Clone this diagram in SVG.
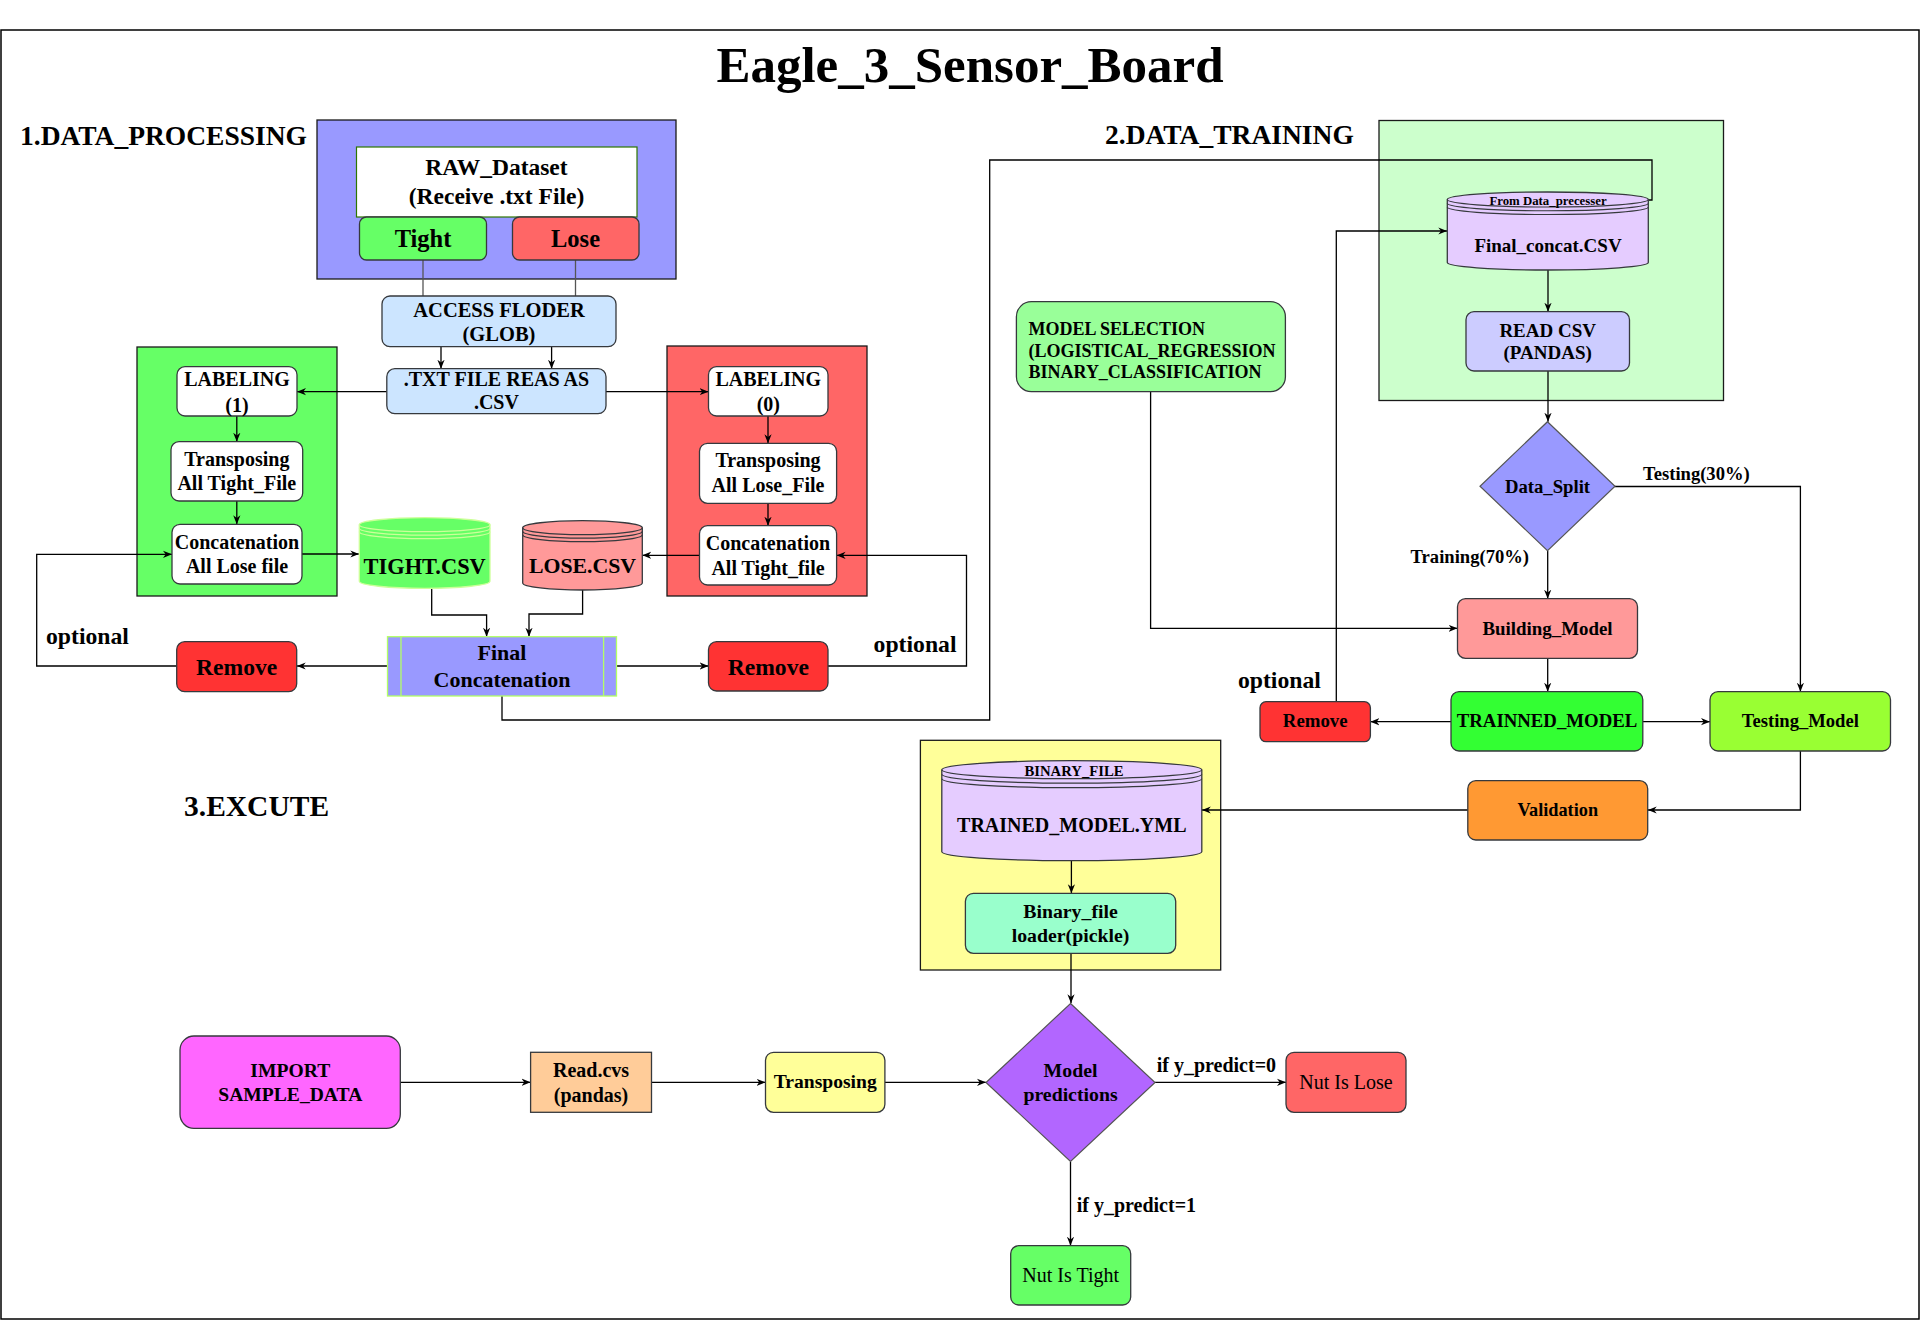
<svg xmlns="http://www.w3.org/2000/svg" width="1921" height="1321" viewBox="0 0 1921 1321">
<defs>
<marker id="arr" viewBox="0 0 10 10" refX="10" refY="5" markerWidth="9" markerHeight="9" orient="auto" markerUnits="userSpaceOnUse">
<path d="M0,1 L10,5 L0,9 L3,5 Z" fill="#000"/>
</marker>
</defs>
<style>
text{font-family:"Liberation Serif","Times New Roman",serif;font-weight:bold;fill:#000;}
.c{text-anchor:middle;}
.n{font-weight:normal;}
.box{stroke:#36393d;stroke-width:1.3;}
.grp{stroke:#1a1a1a;stroke-width:1.3;}
.ln{fill:none;stroke:#000;stroke-width:1.3;}
.lg{fill:none;stroke:#555;stroke-width:1.3;}
.a{marker-end:url(#arr);}
</style>
<rect x="0" y="0" width="1921" height="1321" fill="#fff"/>
<rect x="1" y="30" width="1918" height="1289" fill="none" stroke="#000" stroke-width="1.5"/>
<text class="c" x="970" y="82" font-size="51">Eagle_3_Sensor_Board</text>
<text x="20" y="145" font-size="27.5">1.DATA_PROCESSING</text>
<text x="1105" y="144" font-size="27.5">2.DATA_TRAINING</text>
<text x="184" y="816" font-size="29.5">3.EXCUTE</text>

<!-- containers -->
<g id="raw_group"><rect class="grp" x="317" y="120" width="359" height="159" fill="#9999FF"/></g>
<g id="tight_group"><rect class="grp" x="137" y="347" width="200" height="249" fill="#66FF66"/></g>
<g id="lose_group"><rect class="grp" x="667" y="346" width="200" height="250" fill="#FF6666"/></g>
<g id="train_group"><rect class="grp" x="1379" y="120.5" width="344.5" height="280" fill="#CCFFCC"/></g>
<g id="binary_group"><rect class="grp" x="920.4" y="740.3" width="300.3" height="229.7" fill="#FFFF99"/></g>

<!-- connectors -->
<g id="connectors">
<path class="lg" d="M423,260 V296"/>
<path class="lg" d="M575.5,260 V296"/>
<path class="ln a" d="M441,347 V368.7"/>
<path class="ln a" d="M551.6,347 V368.7"/>
<path class="ln a" d="M386.8,391.7 H297"/>
<path class="ln a" d="M606,391.7 H708.5"/>
<path class="ln a" d="M236.8,416 V441.7"/>
<path class="ln a" d="M236.8,501 V524.3"/>
<path class="ln a" d="M768,416 V443.3"/>
<path class="ln a" d="M768,503.3 V525.7"/>
<path class="ln a" d="M302,554 H359.3"/>
<path class="ln a" d="M699.5,555.3 H642.3"/>
<path class="ln a" d="M431.7,588.3 V615 H486.6 V636.7"/>
<path class="ln a" d="M582.6,590 V614 H529 V636.7"/>
<path class="ln a" d="M616.5,666 H708.5"/>
<path class="ln a" d="M387.5,666 H296.7"/>
<path class="ln a" d="M828,666 H966.5 V555.3 H836.6"/>
<path class="ln a" d="M176.7,666 H36.7 V554.3 H172"/>
<path class="ln a" d="M502,696 V720 H989.7 V160 H1652 V200 H1615"/>
<path class="ln a" d="M1548,270 V311.7"/>
<path class="ln a" d="M1548,371 V421.7"/>
<path class="ln a" d="M1614.6,486.5 H1800.4 V691.7"/>
<path class="ln a" d="M1547.7,550.7 V598.7"/>
<path class="ln a" d="M1150.6,391.7 V628.3 H1457.5"/>
<path class="ln a" d="M1547.7,658.3 V691.7"/>
<path class="ln a" d="M1451,721.7 H1370.4"/>
<path class="ln a" d="M1642.8,721.7 H1710"/>
<path class="ln a" d="M1336.3,701.7 V231 H1447.3"/>
<path class="ln a" d="M1800.4,751 V810 H1647.7"/>
<path class="ln a" d="M1467.8,810 H1201.8"/>
<path class="ln a" d="M1071.4,860.7 V893.3"/>
<path class="ln a" d="M1071,953.3 V1003.3"/>
<path class="ln a" d="M1155,1082.3 H1286"/>
<path class="ln a" d="M1070.5,1161.7 V1245.7"/>
<path class="ln a" d="M400.3,1082.3 H530.6"/>
<path class="ln a" d="M651.5,1082.3 H765.5"/>
<path class="ln a" d="M884.9,1082.3 H986"/>
</g>

<!-- edge labels -->
<text x="873.6" y="651.7" font-size="23.7">optional</text>
<text x="46" y="644.3" font-size="23.7">optional</text>
<text x="1237.9" y="688" font-size="23.7">optional</text>
<text x="1643" y="480" font-size="18.6">Testing(30%)</text>
<text x="1410.6" y="563" font-size="18.6">Training(70%)</text>
<text x="1156.7" y="1071.7" font-size="20">if y_predict=0</text>
<text x="1076.7" y="1211.7" font-size="20">if y_predict=1</text>

<!-- section 1 nodes -->
<g id="raw_dataset"><rect x="356.5" y="147" width="280.5" height="70" fill="#fff" stroke="#2D7600" stroke-width="1.2"/>
<text class="c" x="496.5" y="175" font-size="23.5">RAW_Dataset</text><text class="c" x="496.5" y="204" font-size="23.5">(Receive .txt File)</text></g>
<g id="tight"><rect class="box" x="359.5" y="217" width="127" height="43" rx="7" fill="#66FF66"/><text class="c" x="423" y="247" font-size="24.5">Tight</text></g>
<g id="lose"><rect class="box" x="512.5" y="217" width="126.5" height="43" rx="7" fill="#FF6666"/><text class="c" x="575.5" y="247" font-size="24.5">Lose</text></g>
<g id="access_folder"><rect class="box" x="382" y="296" width="234" height="50.7" rx="8" fill="#CCE5FF"/>
<text class="c" x="499" y="316.7" font-size="20.5">ACCESS FLODER</text><text class="c" x="499" y="340.7" font-size="20.5">(GLOB)</text></g>
<g id="txt_read"><rect class="box" x="386.8" y="368.7" width="219.2" height="45" rx="8" fill="#CCE5FF"/>
<text class="c" x="496.4" y="386" font-size="20">.TXT FILE REAS AS</text><text class="c" x="496.4" y="409" font-size="20">.CSV</text></g>
<g id="labeling1"><rect class="box" x="177" y="366.7" width="120" height="49.3" rx="8" fill="#fff"/>
<text class="c" x="237" y="386" font-size="20">LABELING</text><text class="c" x="237" y="411.7" font-size="20">(1)</text></g>
<g id="transpose_tight"><rect class="box" x="171" y="441.7" width="131.7" height="59.3" rx="8" fill="#fff"/>
<text class="c" x="236.8" y="465.7" font-size="20">Transposing</text><text class="c" x="236.8" y="490" font-size="20">All Tight_File</text></g>
<g id="concat_lose"><rect class="box" x="172" y="524.3" width="130" height="59.7" rx="8" fill="#fff"/>
<text class="c" x="237" y="549" font-size="20">Concatenation</text><text class="c" x="237" y="572.7" font-size="20">All Lose file</text></g>
<g id="labeling0"><rect class="box" x="708.5" y="366.7" width="119.5" height="49.3" rx="8" fill="#fff"/>
<text class="c" x="768.3" y="385.5" font-size="20">LABELING</text><text class="c" x="768.3" y="411" font-size="20">(0)</text></g>
<g id="transpose_lose"><rect class="box" x="699.5" y="443.3" width="137.1" height="60" rx="8" fill="#fff"/>
<text class="c" x="768" y="466.7" font-size="20">Transposing</text><text class="c" x="768" y="491.7" font-size="20">All Lose_File</text></g>
<g id="concat_tight"><rect class="box" x="699.5" y="525.7" width="137.1" height="59.3" rx="8" fill="#fff"/>
<text class="c" x="768" y="550" font-size="20">Concatenation</text><text class="c" x="768" y="575" font-size="20">All Tight_file</text></g>
<g id="tight_csv"><path d="M359.3,524.7 A65.35,7 0 0 1 490,524.7 L490,581.3 A65.35,7 0 0 1 359.3,581.3 Z" fill="#66FF66" stroke="#CCFF99" stroke-width="1.3"/>
<path d="M359.3,524.7 A65.35,7 0 0 0 490,524.7 M359.3,528.2 A65.35,7 0 0 0 490,528.2 M359.3,531.7 A65.35,7 0 0 0 490,531.7" fill="none" stroke="#CCFF99" stroke-width="1.2"/>
<text class="c" x="424.7" y="574.3" font-size="22.4">TIGHT.CSV</text></g>
<g id="lose_csv"><path d="M522.7,527.7 A59.8,7 0 0 1 642.3,527.7 L642.3,583 A59.8,7 0 0 1 522.7,583 Z" fill="#FF9999" stroke="#36393d" stroke-width="1.3"/>
<path d="M522.7,527.7 A59.8,7 0 0 0 642.3,527.7 M522.7,531.2 A59.8,7 0 0 0 642.3,531.2 M522.7,534.7 A59.8,7 0 0 0 642.3,534.7" fill="none" stroke="#36393d" stroke-width="1.2"/>
<text class="c" x="582.5" y="573.3" font-size="21.8">LOSE.CSV</text></g>
<g id="final_concat"><rect x="387.5" y="636.7" width="229" height="59.3" fill="#9999FF" stroke="#B3FF66" stroke-width="1.3"/>
<path d="M401,636.7 V696 M603.6,636.7 V696" stroke="#B3FF66" stroke-width="1.3"/>
<text class="c" x="502" y="660" font-size="22">Final</text><text class="c" x="502" y="686.7" font-size="22">Concatenation</text></g>
<g id="remove_right"><rect class="box" x="708.5" y="641.7" width="119.5" height="49.3" rx="8" fill="#FF3333"/><text class="c" x="768.3" y="675" font-size="23.6">Remove</text></g>
<g id="remove_left"><rect class="box" x="176.7" y="641.7" width="120" height="50" rx="8" fill="#FF3333"/><text class="c" x="236.7" y="675" font-size="23.6">Remove</text></g>

<!-- section 2 nodes -->
<g id="final_concat_csv"><path d="M1447.3,199.5 A100.5,7.5 0 0 1 1648.3,199.5 L1648.3,262.5 A100.5,7.5 0 0 1 1447.3,262.5 Z" fill="#E5CCFF" stroke="#36393d" stroke-width="1.3"/>
<path d="M1447.3,199.5 A100.5,7.5 0 0 0 1648.3,199.5 M1447.3,203.25 A100.5,7.5 0 0 0 1648.3,203.25 M1447.3,207 A100.5,7.5 0 0 0 1648.3,207" fill="none" stroke="#36393d" stroke-width="1.2"/>
<text class="c" x="1548" y="205" font-size="12.8">From Data_precesser</text>
<text class="c" x="1548" y="251.7" font-size="19">Final_concat.CSV</text></g>
<g id="read_csv"><rect class="box" x="1466" y="311.7" width="163.5" height="59.3" rx="8" fill="#CCCCFF"/>
<text class="c" x="1547.7" y="336.7" font-size="19">READ CSV</text><text class="c" x="1547.7" y="359.3" font-size="19">(PANDAS)</text></g>
<g id="data_split"><path d="M1547.5,421.7 L1615,486.2 L1547.5,550.7 L1480,486.2 Z" fill="#9999FF" stroke="#555" stroke-width="1.2"/>
<text class="c" x="1547.5" y="492.7" font-size="18.7">Data_Split</text></g>
<g id="model_selection"><rect class="box" x="1016.4" y="301.7" width="269" height="90" rx="15" fill="#99FF99"/>
<text x="1028.5" y="335" font-size="18">MODEL SELECTION</text>
<text x="1028.5" y="356.7" font-size="18">(LOGISTICAL_REGRESSION</text>
<text x="1028.5" y="378.3" font-size="18">BINARY_CLASSIFICATION</text></g>
<g id="building_model"><rect class="box" x="1457.5" y="598.7" width="180" height="59.6" rx="8" fill="#FF9999"/>
<text class="c" x="1547.5" y="635" font-size="18.9">Building_Model</text></g>
<g id="trained_model"><rect class="box" x="1451" y="691.7" width="191.8" height="59.3" rx="8" fill="#33FF33"/>
<text class="c" x="1547" y="727.3" font-size="18.8">TRAINNED_MODEL</text></g>
<g id="remove_train"><rect class="box" x="1260" y="701.7" width="110.4" height="40" rx="6" fill="#FF3333"/>
<text class="c" x="1315.2" y="727" font-size="18.8">Remove</text></g>
<g id="testing_model"><rect class="box" x="1710" y="691.7" width="180.5" height="59.3" rx="8" fill="#99FF33"/>
<text class="c" x="1800.3" y="727.3" font-size="18.6">Testing_Model</text></g>
<g id="validation"><rect class="box" x="1467.8" y="780.7" width="179.9" height="59.3" rx="8" fill="#FF9933"/>
<text class="c" x="1557.8" y="816" font-size="18.3">Validation</text></g>

<!-- section 3 nodes -->
<g id="trained_model_yml"><path d="M941.8,769.7 A130,9 0 0 1 1201.8,769.7 L1201.8,851.7 A130,9 0 0 1 941.8,851.7 Z" fill="#E5CCFF" stroke="#36393d" stroke-width="1.3"/>
<path d="M941.8,769.7 A130,9 0 0 0 1201.8,769.7 M941.8,774.2 A130,9 0 0 0 1201.8,774.2 M941.8,778.7 A130,9 0 0 0 1201.8,778.7" fill="none" stroke="#36393d" stroke-width="1.2"/>
<text class="c" x="1074" y="775.7" font-size="14.7">BINARY_FILE</text>
<text class="c" x="1071.8" y="832.3" font-size="20">TRAINED_MODEL.YML</text></g>
<g id="binary_loader"><rect class="box" x="965.4" y="893.3" width="210.3" height="60" rx="8" fill="#99FFCC"/>
<text class="c" x="1070.5" y="918.3" font-size="19.8">Binary_file</text><text class="c" x="1070.5" y="941.7" font-size="19.8">loader(pickle)</text></g>
<g id="model_predictions"><path d="M1070.5,1003.5 L1155,1082.5 L1070.5,1161.5 L986,1082.5 Z" fill="#B266FF" stroke="#555" stroke-width="1.2"/>
<text class="c" x="1070.5" y="1077.3" font-size="19.8">Model</text><text class="c" x="1070.5" y="1100.7" font-size="19.8">predictions</text></g>
<g id="nut_lose"><rect class="box" x="1286" y="1052.3" width="120" height="60" rx="8" fill="#FF6666"/>
<text class="c n" x="1346" y="1089" font-size="20">Nut Is Lose</text></g>
<g id="nut_tight"><rect class="box" x="1010.7" y="1245.7" width="120" height="59.3" rx="8" fill="#66FF66"/>
<text class="c n" x="1070.7" y="1282.3" font-size="20">Nut Is Tight</text></g>
<g id="import_sample"><rect class="box" x="180" y="1036" width="220.3" height="92.3" rx="14" fill="#FF66FF"/>
<text class="c" x="290.3" y="1076.7" font-size="19.6">IMPORT</text><text class="c" x="290.3" y="1100.7" font-size="19.6">SAMPLE_DATA</text></g>
<g id="read_cvs"><rect class="box" x="530.6" y="1052.3" width="120.9" height="60" fill="#FFCC99"/>
<text class="c" x="591" y="1076.7" font-size="20">Read.cvs</text><text class="c" x="591" y="1101.7" font-size="20">(pandas)</text></g>
<g id="transposing_exec"><rect class="box" x="765.5" y="1052.3" width="119.4" height="60" rx="8" fill="#FFFF99"/>
<text class="c" x="825.2" y="1088.3" font-size="19.6">Transposing</text></g>
</svg>
